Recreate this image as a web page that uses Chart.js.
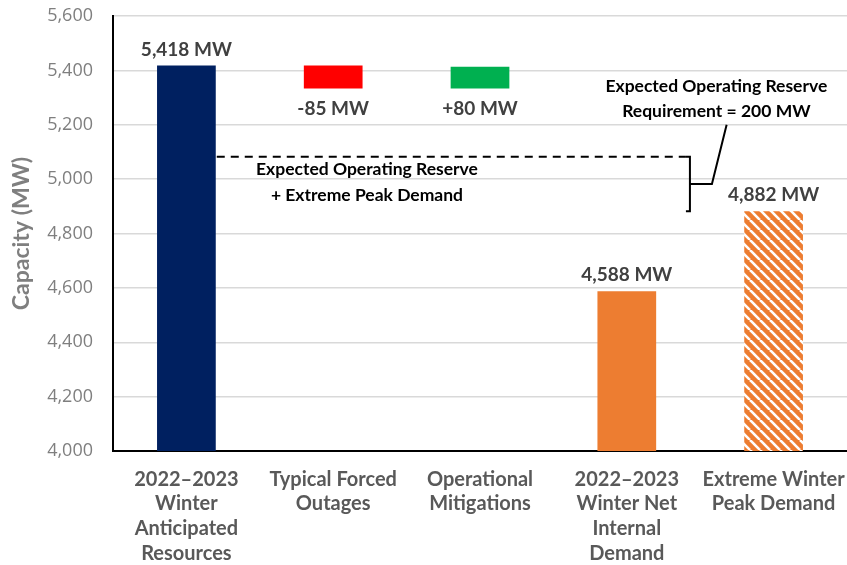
<!DOCTYPE html>
<html>
<head>
<meta charset="utf-8">
<script src="https://cdn.jsdelivr.net/npm/chart.js@4"></script>
<style>
  html, body { margin: 0; padding: 0; background: #fff; }
  #wrap { width: 847px; height: 565px; position: relative; }
</style>
</head>
<body>
<div id="wrap"><canvas id="capChart"></canvas></div>
<script>
const categories = [
    ['2022–2023', 'Winter', 'Anticipated', 'Resources'],
    ['Typical Forced', 'Outages'],
    ['Operational', 'Mitigations'],
    ['2022–2023', 'Winter Net', 'Internal', 'Demand'],
    ['Extreme Winter', 'Peak Demand']
];
const barLow = [4000, 5333, 5333, 4000, 4000];
const barHigh = [5418, 5418, 5413, 4588, 4882];
const valueLabels = ['5,418 MW', '-85 MW', '+80 MW', '4,588 MW', '4,882 MW'];
const labelBelow = [false, true, true, false, false];
const reserveRequirement = 200;
const yMin = 4000, yMax = 5600, yStep = 200;

const FONT = 'Lato, "Open Sans", sans-serif';

// orange hatch for the extreme demand bar
function makeHatch() {
    const c = document.createElement('canvas');
    c.width = 10; c.height = 10;
    const g = c.getContext('2d');
    g.fillStyle = '#ED7D31';
    g.fillRect(0, 0, 10, 10);
    g.strokeStyle = '#ffffff';
    g.lineWidth = 2.6;
    for (let k = -10; k <= 20; k += 10) {
        g.beginPath();
        g.moveTo(k, 0);
        g.lineTo(k + 10, 10);
        g.stroke();
    }
    return g.createPattern(c, 'repeat');
}

const barColors = ['#002060', '#FF0000', '#00B050', '#ED7D31', makeHatch()];

const annotations = {
    id: 'annotations',
    afterDatasetsDraw(chart) {
        const { ctx, scales: { x, y } } = chart;
        const meta = chart.getDatasetMeta(0);
        ctx.save();

        // value labels
        ctx.font = 'bold 19px ' + FONT;
        ctx.fillStyle = '#404040';
        ctx.textAlign = 'center';
        ctx.textBaseline = 'middle';
        valueLabels.forEach((txt, i) => {
            const bar = meta.data[i];
            const yy = labelBelow[i] ? y.getPixelForValue(barLow[i]) + 20 : y.getPixelForValue(barHigh[i]) - 16;
            ctx.fillText(txt, bar.x, yy);
        });

        // dashed reserve line
        const reserveTop = barHigh[4] + reserveRequirement;
        const yTop = y.getPixelForValue(reserveTop);
        const yBot = y.getPixelForValue(barHigh[4]);
        const yMid = (yTop + yBot) / 2;
        const xStart = meta.data[0].x + meta.data[0].width / 2 + 1;
        const xBr = x.getPixelForValue(3.43);
        ctx.strokeStyle = '#000';
        ctx.lineWidth = 2;
        ctx.setLineDash([8, 6]);
        ctx.beginPath();
        ctx.moveTo(xStart, yTop);
        ctx.lineTo(xBr - 4, yTop);
        ctx.stroke();
        ctx.setLineDash([]);

        // bracket
        ctx.beginPath();
        ctx.moveTo(xBr - 4, yTop);
        ctx.lineTo(xBr, yTop);
        ctx.lineTo(xBr, yBot);
        ctx.lineTo(xBr - 4, yBot);
        ctx.moveTo(xBr, yMid);
        ctx.lineTo(xBr + 22, yMid);
        ctx.lineTo(x.getPixelForValue(3.68), y.getPixelForValue(5200));
        ctx.stroke();

        ctx.font = 'bold 17.5px ' + FONT;
        ctx.fillStyle = '#000';
        const xr = x.getPixelForValue(3.61);
        ctx.fillText('Expected Operating Reserve', xr, y.getPixelForValue(5340));
        ctx.fillText('Requirement = 200 MW', xr, y.getPixelForValue(5248));

        const xl = x.getPixelForValue(1.23);
        ctx.fillText('Expected Operating Reserve', xl, y.getPixelForValue(5037));
        ctx.fillText('+ Extreme Peak Demand', xl, y.getPixelForValue(4942));
        ctx.restore();
    }
};

new Chart(document.getElementById('capChart'), {
    type: 'bar',
    data: {
        labels: categories,
        datasets: [{
            data: barLow.map((lo, i) => [lo, barHigh[i]]),
            backgroundColor: barColors,
            borderWidth: 0,
            barPercentage: 0.4,
            categoryPercentage: 1
        }]
    },
    options: {
        responsive: true,
        maintainAspectRatio: false,
        animation: false,
        layout: { padding: 0 },
        plugins: { legend: { display: false }, tooltip: { enabled: false } },
        scales: {
            x: {
                grid: { display: false },
                border: { color: '#000', width: 2 },
                ticks: { color: '#595959', font: { family: FONT, size: 20, weight: 'bold', lineHeight: 1.23 }, padding: 8, maxRotation: 0, autoSkip: false },
                afterFit: s => { s.height = 114; s.paddingLeft = 0; s.paddingRight = 0; }
            },
            y: {
                min: yMin,
                max: yMax,
                grid: { color: '#d9d9d9', lineWidth: 1.5, drawTicks: false },
                border: { color: '#000', width: 2 },
                ticks: {
                    stepSize: yStep,
                    color: '#7f7f7f',
                    padding: 20,
                    font: { family: '"Open Sans", sans-serif', size: 18 },
                    callback: v => v.toLocaleString('en-US')
                },
                title: {
                    display: true,
                    text: 'Capacity (MW)',
                    color: '#7f7f7f',
                    font: { family: FONT, size: 23, weight: 'bold' },
                    padding: { top: 8, bottom: 0 }
                },
                afterFit: s => { s.width = 113; s.paddingTop = 16; s.paddingBottom = 0; }
            }
        }
    },
    plugins: [annotations]
});
</script>
</body>
</html>
